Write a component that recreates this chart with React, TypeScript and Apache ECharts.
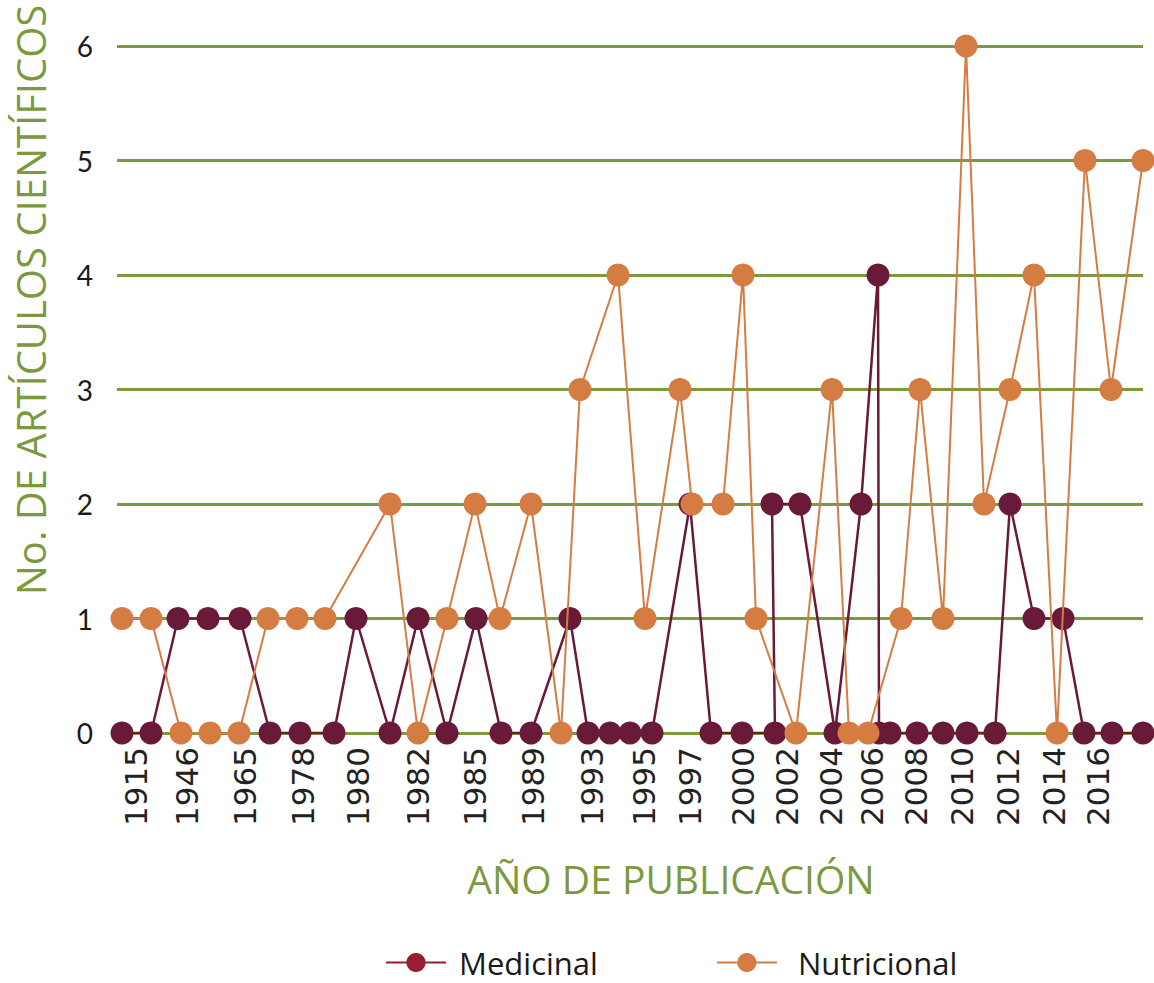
import React, { useEffect, useRef } from "react";
import * as echarts from "echarts";

// Horizontal position of each point along the year axis (axis units), with its count
const medicinalPos = [122, 151, 178, 208, 240, 270, 300, 334, 356, 390, 418, 447, 476, 501, 531, 570, 588, 610, 630, 652, 690, 711, 742, 775, 772, 800, 835, 861, 878, 879, 890, 917, 943, 967, 995, 1010, 1034, 1063, 1084, 1112, 1143];
const medicinalVal = [0, 0, 1, 1, 1, 0, 0, 0, 1, 0, 1, 0, 1, 0, 0, 1, 0, 0, 0, 0, 2, 0, 0, 0, 2, 2, 0, 2, 4, 0, 0, 0, 0, 0, 0, 2, 1, 1, 0, 0, 0];

const nutricionalPos = [122, 151, 181, 210, 239, 268, 297, 325, 390, 418, 447, 475, 500, 531, 561, 580, 618, 645, 680, 692, 723, 743, 756, 796, 832, 849, 868, 901, 920, 943, 966, 984, 1010, 1034, 1057, 1085, 1111, 1143];
const nutricionalVal = [1, 1, 0, 0, 0, 1, 1, 1, 2, 0, 1, 2, 1, 2, 0, 3, 4, 1, 3, 2, 2, 4, 1, 0, 3, 0, 0, 1, 3, 1, 6, 2, 3, 4, 0, 5, 3, 5];

// Year tick labels and where they sit on the axis
const yearLabels = ["1915", "1946", "1965", "1978", "1980", "1982", "1985", "1989", "1993", "1995", "1997", "2000", "2002", "2004", "2006", "2008", "2010", "2012", "2014", "2016"];
const yearLabelPos = [136, 187, 245, 303, 358, 418, 475, 533, 592, 644, 690, 743, 787, 831, 872, 916, 962, 1008, 1054, 1098];

const yTicks = [0, 1, 2, 3, 4, 5, 6];

const GREEN = "#7b9a3e";
const MED = "#6a1a39";
const NUT = "#d47c42";

export default function App() {
  const ref = useRef<HTMLDivElement>(null);
  useEffect(() => {
    document.body.style.margin = "0";
    const chart = echarts.init(ref.current!, null, { renderer: "svg" });
    const medData = medicinalPos.map((p, i) => [p, medicinalVal[i]]);
    const nutData = nutricionalPos.map((p, i) => [p, nutricionalVal[i]]);
    chart.setOption({
      animation: false,
      backgroundColor: "#ffffff",
      grid: { left: 117, right: 11, top: 46, bottom: 250 },
      xAxis: {
        type: "value",
        min: 117,
        max: 1143,
        axisLine: { show: false },
        axisTick: { show: false },
        splitLine: { show: false },
        axisLabel: {
          customValues: yearLabelPos,
          rotate: 90,
          margin: 14,
          fontSize: 31,
          color: "#222222",
          fontFamily: "'DejaVu Sans'",
          formatter: (v: number) => {
            const idx = yearLabelPos.indexOf(v);
            return idx >= 0 ? yearLabels[idx] : "";
          },
        },
      },
      yAxis: {
        type: "value",
        min: 0,
        max: 6,
        interval: 1,
        axisLine: { show: false },
        axisTick: { show: false },
        axisLabel: {
          margin: 24,
          fontSize: 28,
          color: "#1a1a1a",
          fontFamily: "Lato",
          formatter: (v: number) => (yTicks.includes(v) ? String(v) : ""),
        },
        splitLine: { lineStyle: { color: GREEN, width: 3 } },
      },
      legend: {
        left: 380,
        top: 942,
        itemWidth: 60,
        itemHeight: 24,
        itemGap: 118,
        textStyle: { fontSize: 31, color: "#1a1a1a", fontFamily: "'Open Sans'" },
        formatter: (name: string) => (name === "Nutricional" ? "  " + name : " " + name),
        data: [
          {
            name: "Medicinal",
            itemStyle: { color: "#9a1c30" },
            lineStyle: { color: "#9a1c30", width: 2 },
          },
          {
            name: "Nutricional",
            itemStyle: { color: NUT },
            lineStyle: { color: NUT, width: 2 },
          },
        ],
      },
      graphic: [
        {
          type: "text",
          x: 30,
          y: 300,
          rotation: Math.PI / 2,
          style: {
            text: "No. DE ARTÍCULOS CIENTÍFICOS",
            fill: GREEN,
            fontSize: 40,
            fontFamily: "'Open Sans'",
            textAlign: "center",
            textVerticalAlign: "middle",
          },
        },
        {
          type: "text",
          x: 671,
          y: 878,
          style: {
            text: "AÑO DE PUBLICACIÓN",
            fill: GREEN,
            fontSize: 39,
            fontFamily: "'Open Sans'",
            textAlign: "center",
            textVerticalAlign: "middle",
          },
        },
      ],
      series: [
        {
          name: "Medicinal",
          type: "line",
          data: medData,
          symbol: "circle",
          symbolSize: 23,
          itemStyle: { color: MED },
          lineStyle: { color: MED, width: 2.5 },
          z: 2,
        },
        {
          name: "Nutricional",
          type: "line",
          data: nutData,
          symbol: "circle",
          symbolSize: 23,
          itemStyle: { color: NUT },
          lineStyle: { color: NUT, width: 2 },
          z: 3,
        },
      ],
    });
    return () => chart.dispose();
  }, []);
  return <div ref={ref} style={{ width: 1154, height: 983 }} />;
}
